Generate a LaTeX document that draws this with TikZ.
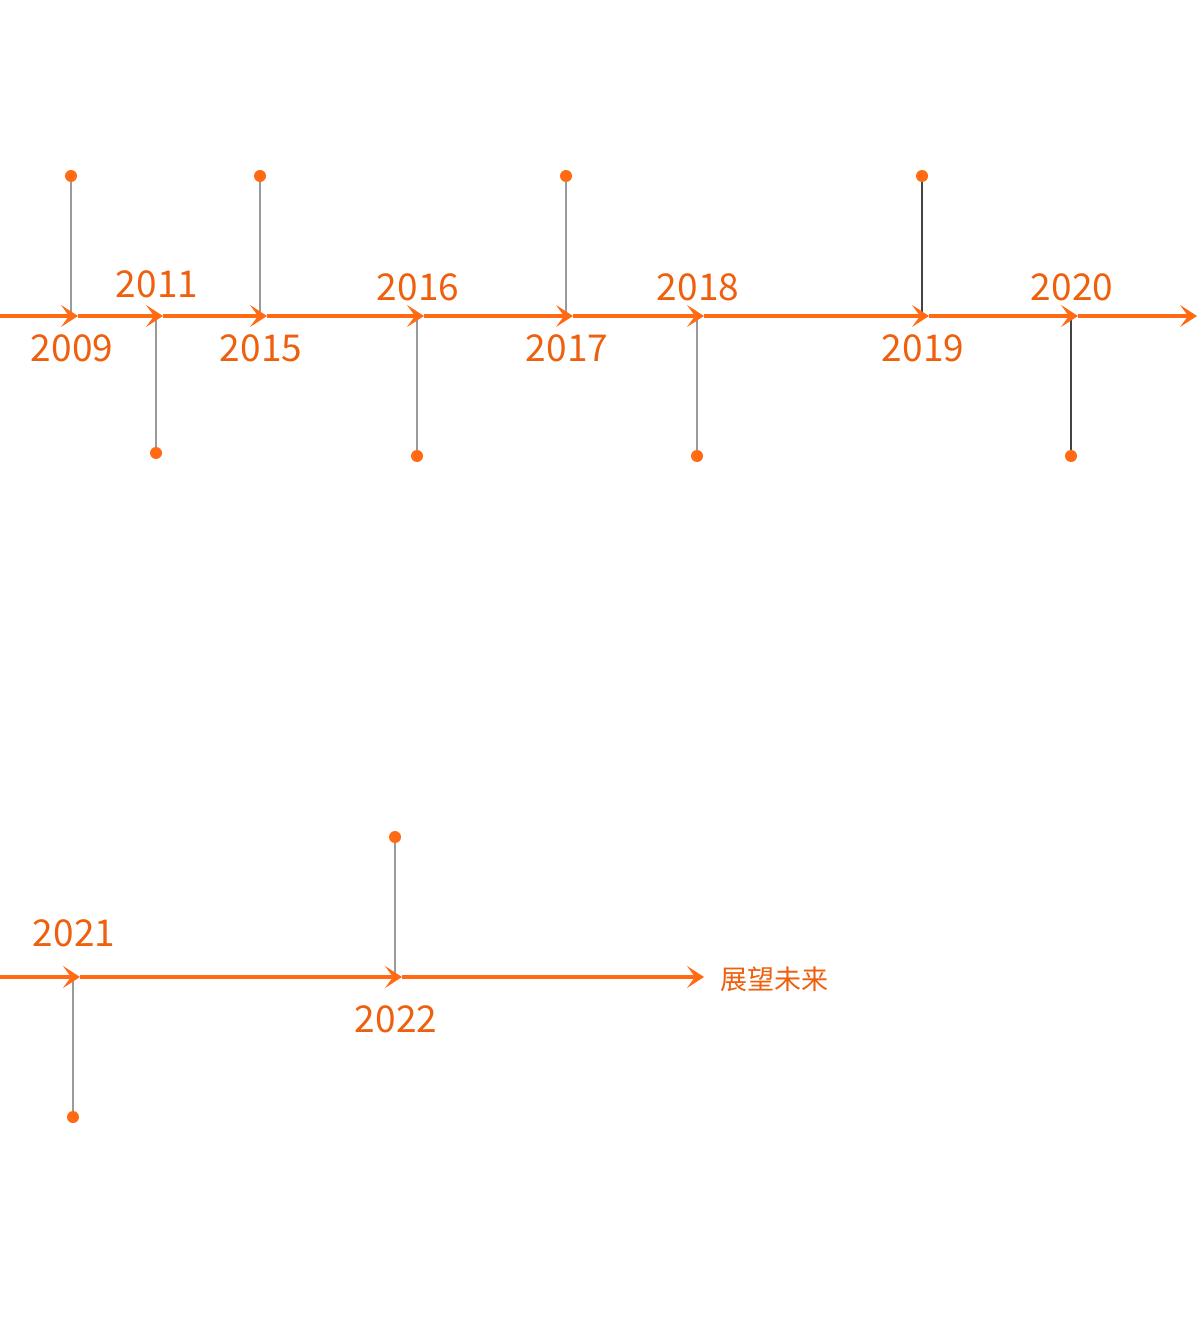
\documentclass[tikz,border=0pt]{standalone}
\usepackage{fontspec}
\setmainfont{Noto Sans CJK SC}
\usetikzlibrary{arrows.meta, positioning, calc}

\definecolor{axisorange}{HTML}{FF6A13}
\definecolor{yearorange}{HTML}{EE600E}
\definecolor{stemgray}{HTML}{9A9A9A}
\definecolor{stemdark}{HTML}{444444}

\begin{document}
\begin{tikzpicture}[
    x=0.5pt, y=-0.5pt,
    axis/.style={draw=axisorange, line width=2pt,
        -{Stealth[length=8.5pt, width=11pt, inset=4pt]}},
    stem/.style={line width=1pt},
    dot/.style={circle, fill=axisorange, inner sep=0pt, minimum size=6pt},
    year/.style={text=yearorange, font=\fontsize{18.5}{18.5}\selectfont},
    future/.style={text=yearorange, font=\fontsize{13.5}{13.5}\selectfont, anchor=west}
]
    \useasboundingbox (0,0) rectangle (1200,1320);

    % First row: axis at y=316
    \coordinate (a0) at (0,316);
    \foreach \x/\yr/\dy/\ly/\col [count=\i] in {
        71/2009/176/348/stemgray, 156/2011/453/284/stemgray,
        260/2015/176/348/stemgray, 417/2016/456/287/stemgray,
        566/2017/176/348/stemgray, 697/2018/456/287/stemgray,
        922/2019/176/348/stemdark, 1071/2020/456/287/stemdark} {
        \pgfmathtruncatemacro{\prev}{\i-1}
        \coordinate (s\i) at (\x,316);
        \coordinate (a\i) at (\x+7,316);
        \node[dot] (d\i) at (\x,\dy) {};
        \draw[stem, draw=\col] (d\i) -- (s\i);
        \draw[axis] (a\prev) -- (a\i);
        \node[year] (y\i) at (\x+1,\ly) {\yr};
    }
    \coordinate (e1) at (1197,316);
    \draw[axis] (a8) -- (e1);

    % Second row: axis at y=977
    \coordinate (b0) at (0,977);
    \foreach \x/\yr/\dy/\ly [count=\i] in {
        73/2021/1117/933, 395/2022/837/1019} {
        \pgfmathtruncatemacro{\prev}{\i-1}
        \coordinate (r\i) at (\x,977);
        \coordinate (b\i) at (\x+7,977);
        \node[dot] (f\i) at (\x,\dy) {};
        \draw[stem, draw=stemgray] (f\i) -- (r\i);
        \draw[axis] (b\prev) -- (b\i);
        \node[year] (z\i) at (\x+1,\ly) {\yr};
    }
    \coordinate (e2) at (704,977);
    \draw[axis] (b2) -- (e2);
    \node[future] (fut) at (713,979) {展望未来};

\end{tikzpicture}
\end{document}
